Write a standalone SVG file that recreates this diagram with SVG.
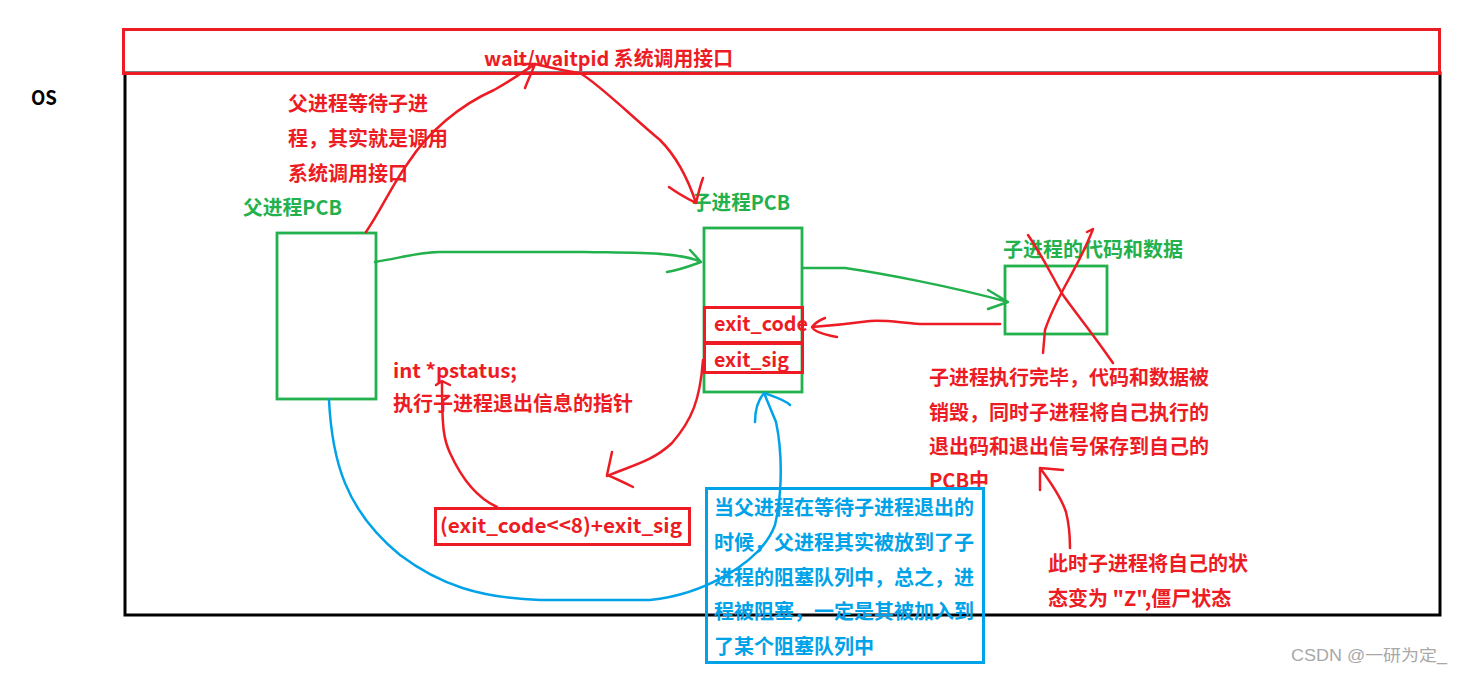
<svg xmlns="http://www.w3.org/2000/svg" width="1462" height="673" viewBox="0 0 1462 673">
<style>
text{font-family:"Noto Sans CJK SC","Liberation Sans",sans-serif;font-weight:bold;font-size:20px}
.tr{fill:#ed1c24}.tg{fill:#22b14c}.tb{fill:#00a2e8}.tk{fill:#000}
.box{fill:none;stroke-width:3}
.bg{fill:none;stroke:#22b14c;stroke-width:2.8}
.br{fill:none;stroke:#ed1c24;stroke-width:3}
.c{fill:none;stroke-width:2.5;stroke-linecap:round;stroke-linejoin:round}
.r{stroke:#ed1c24}.g{stroke:#22b14c}.b{stroke:#00a2e8}
</style>
<rect width="1462" height="673" fill="#fff"/>
<g id="os">
<rect x="125" y="73" width="1315" height="542" class="box" stroke="#000"/>
<text x="31" y="105" class="tk" font-size="17" textLength="26" lengthAdjust="spacingAndGlyphs">OS</text>
</g>
<g id="syscall">
<rect x="123.5" y="29.5" width="1316" height="44" class="box" stroke="#ed1c24"/>
<text x="484" y="66" class="tr" textLength="249" lengthAdjust="spacingAndGlyphs">wait/waitpid 系统调用接口</text>
</g>
<g id="note-wait">
<text x="288" y="111" class="tr">父进程等待子进</text>
<text x="288" y="146" class="tr">程，其实就是调用</text>
<text x="288" y="181" class="tr">系统调用接口</text>
</g>
<g id="parent-pcb">
<text x="243" y="215" class="tg" textLength="99" lengthAdjust="spacingAndGlyphs">父进程PCB</text>
<rect x="277" y="233" width="99" height="166" class="bg"/>
</g>
<g id="child-pcb">
<text x="692" y="210" class="tg" textLength="98" lengthAdjust="spacingAndGlyphs">子进程PCB</text>
<rect x="704" y="228" width="98" height="164" class="bg"/>
</g>
<g id="exit-code">
<rect x="704.5" y="307.5" width="98" height="35" class="br"/>
<text x="714" y="331" class="tr" textLength="94" lengthAdjust="spacingAndGlyphs">exit_code</text>
</g>
<g id="exit-sig">
<rect x="704.5" y="343.5" width="98" height="29" class="br"/>
<text x="714" y="367" class="tr" textLength="75" lengthAdjust="spacingAndGlyphs">exit_sig</text>
</g>
<g id="pstatus">
<text x="393" y="378" class="tr" textLength="124" lengthAdjust="spacingAndGlyphs">int *pstatus;</text>
<text x="393" y="411" class="tr">执行子进程退出信息的指针</text>
</g>
<g id="status-value">
<rect x="435.5" y="508.5" width="254" height="36" class="br"/>
<text x="440" y="533" class="tr" textLength="242" lengthAdjust="spacingAndGlyphs">(exit_code&lt;&lt;8)+exit_sig</text>
</g>
<g id="code-data">
<text x="1003" y="257" class="tg">子进程的代码和数据</text>
<rect x="1005" y="266" width="102" height="68" class="bg"/>
</g>
<g id="note-exit">
<text x="929" y="385" class="tr">子进程执行完毕，代码和数据被</text>
<text x="929" y="420" class="tr">销毁，同时子进程将自己执行的</text>
<text x="929" y="454" class="tr">退出码和退出信号保存到自己的</text>
<text x="929" y="488" class="tr">PCB中</text>
</g>
<g id="note-zombie">
<text x="1048" y="571" class="tr">此时子进程将自己的状</text>
<text x="1048" y="606" class="tr">态变为 "Z",僵尸状态</text>
</g>
<g id="note-block">
<rect x="706.5" y="488.5" width="277" height="174" fill="none" stroke="#00a2e8" stroke-width="3"/>
<text x="714" y="515" class="tb">当父进程在等待子进程退出的</text>
<text x="714" y="550" class="tb">时候，父进程其实被放到了子</text>
<text x="714" y="585" class="tb">进程的阻塞队列中，总之，进</text>
<text x="714" y="619" class="tb">程被阻塞，一定是其被加入到</text>
<text x="714" y="654" class="tb">了某个阻塞队列中</text>
</g>
<g id="connectors">
<path class="c r" d="M366,232 C380,212 392,185 408,163 C428,132 460,105 494,90 C512,80 526,70 535,64 M525,88 C528,80 532,72 535,64 L518,64"/>
<path class="c r" d="M535,64 C548,67 565,71 580,73 C600,85 630,115 660,140 C680,160 690,185 696,203 M669,187 C680,195 690,200 696,203 C698,195 700,186 703,178"/>
<path class="c g" d="M375,262 C400,258 420,252 440,252 L585,252 C640,253 680,252 701,262 M690,250 L701,262 M667,272 C680,270 690,266 701,262"/>
<path class="c g" d="M803,268 L845,268 C880,273 950,286 1008,302 M988,290 L1008,302 L988,309"/>
<path class="c r" d="M1000,324 L920,324 C900,323 890,320 870,321 C855,323 840,325 812,327 M825,318 C820,320 815,323 812,327 C814,331 820,334 837,337"/>
<path class="c r" d="M1028,235 C1045,260 1055,282 1063,295 C1075,312 1090,330 1113,363"/>
<path class="c r" d="M1087,232 L1093,229 C1085,250 1078,262 1070,277 C1060,295 1050,315 1045,330 L1043,353"/>
<path class="c r" d="M1070,548 C1070,530 1068,520 1066,512 C1062,500 1055,488 1040,468 M1040,490 L1040,468 L1063,470"/>
<path class="c r" d="M703,360 C700,400 692,420 672,443 C652,462 630,466 607,476 M612,452 L607,475 C615,478 625,483 633,487"/>
<path class="c r" d="M497,507 C475,497 460,475 450,453 C444,440 442,430 442,383 M436,385 L442,381 L450,385"/>
<path class="c b" d="M329,400 C332,460 345,510 400,555 C440,585 480,598 540,600 L650,600 C700,595 760,565 775,525 C783,490 782,450 776,422 L764,393 M755,422 C755,410 758,400 764,393 C775,397 785,400 790,405"/>
</g>
<text x="1291" y="661" fill="#a8a8a8" textLength="156" lengthAdjust="spacingAndGlyphs" style="font-family:'Liberation Sans','Noto Sans CJK SC',sans-serif;font-weight:normal;font-size:16px">CSDN @一研为定_</text>
</svg>
